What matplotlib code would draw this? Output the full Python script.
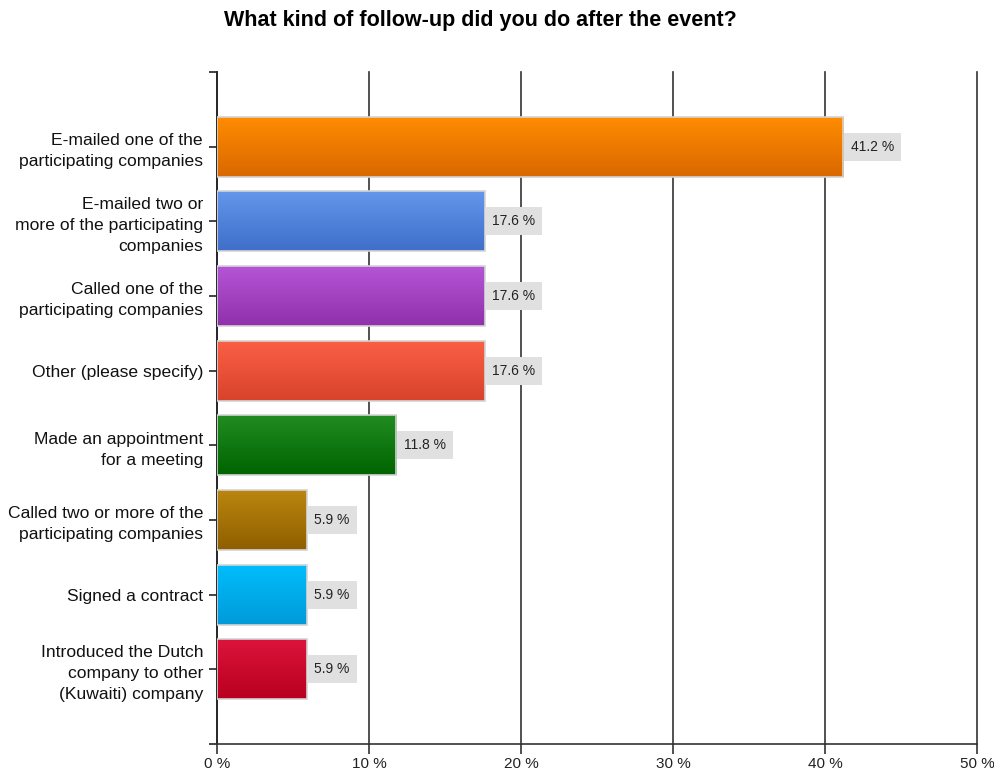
import numpy as np
import matplotlib
matplotlib.use('Agg')
import matplotlib.pyplot as plt
from matplotlib.colors import to_rgb

plt.rcParams['font.family'] = ['Liberation Sans', 'DejaVu Sans']

categories = ['E-mailed one of the\nparticipating companies',
              'E-mailed two or\nmore of the participating\ncompanies',
              'Called one of the\nparticipating companies',
              'Other (please specify)',
              'Made an appointment\nfor a meeting',
              'Called two or more of the\nparticipating companies',
              'Signed a contract',
              'Introduced the Dutch\ncompany to other\n(Kuwaiti) company']
values = [41.2, 17.6, 17.6, 17.6, 11.8, 5.9, 5.9, 5.9]
top_colors = ['#ff8c00', '#6496ec', '#b455d6', '#fa5f45', '#218c21', '#ba860e', '#00bdfc', '#dc143c']
bot_colors = ['#d96800', '#3f6fc9', '#9030aa', '#d8432b', '#006400', '#8f5f00', '#009ad8', '#b8001e']
xticks = [0, 10, 20, 30, 40, 50]

fig = plt.figure(figsize=(9.95, 7.75), dpi=100)
ax = fig.add_axes([0.2181, 0.04, 0.7638, 0.8671])

h = 0.8
n = 60
for i, (v, c1, c2) in enumerate(zip(values, top_colors, bot_colors)):
    t = np.linspace(0, 1, n)[:, None, None]
    grad = (1 - t) * np.array(to_rgb(c1)) + t * np.array(to_rgb(c2))
    ax.imshow(grad, extent=(0, v, i + h / 2, i - h / 2), origin='upper',
              aspect='auto', interpolation='bilinear', zorder=3)
    ax.barh(i, v, height=h, facecolor='none', edgecolor='#d4d4d4', linewidth=1.2, zorder=4)
    ax.annotate('%.1f %%' % v, xy=(v, i), xytext=(5.5, 0), textcoords='offset points',
                ha='left', va='center', fontsize=10, color='#222222', zorder=5,
                bbox=dict(boxstyle='square,pad=0.5', facecolor='#e0e0e0', edgecolor='none'))

ax.set_xlim(0, 50)
ax.set_ylim(8, -1)
ax.set_xticks(xticks)
ax.set_xticklabels(['%d %%' % x for x in xticks], fontsize=11, color='#222222')
ax.set_yticks(range(len(categories)))
ax.set_yticklabels(categories, fontsize=12.6, color='#111111', linespacing=1.5)
ax.set_yticks([-1, 8], minor=True)
ax.tick_params(axis='y', which='both', length=6, width=1.2, color='#222222', pad=4)
ax.tick_params(axis='x', length=7, width=1.2, color='#333333', pad=2)
ax.grid(axis='x', color='#333333', linewidth=1.2, zorder=1)
for line in ax.get_xgridlines():
    line.set_clip_on(False)
ax.set_axisbelow(True)
for s in ['top', 'right']:
    ax.spines[s].set_visible(False)
ax.spines['left'].set_linewidth(1.2)
ax.spines['bottom'].set_linewidth(1.2)
ax.spines['left'].set_color('#222222')
ax.spines['bottom'].set_color('#333333')

fig.text(0.483, 0.973, 'What kind of follow-up did you do after the event?',
         ha='center', va='center', fontsize=15.5, fontweight='bold')

fig.savefig('out.png', dpi=100)
